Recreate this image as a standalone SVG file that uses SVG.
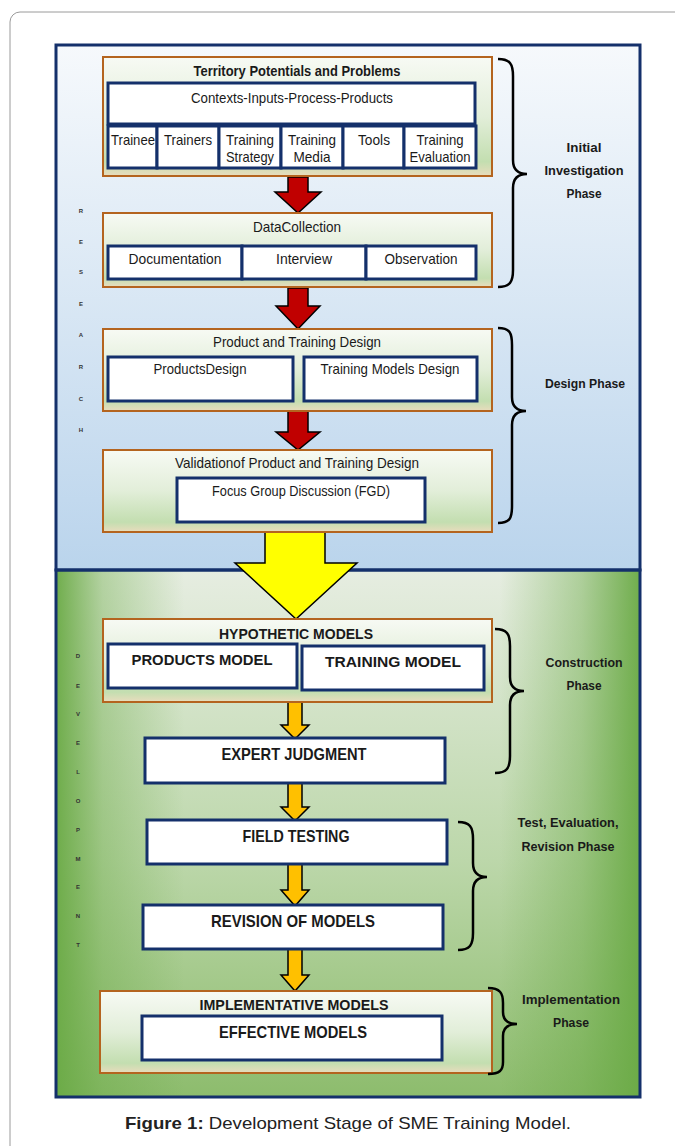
<svg xmlns="http://www.w3.org/2000/svg" width="675" height="1146" viewBox="0 0 675 1146">
<defs>
<linearGradient id="gBlue" x1="0" y1="0" x2="0" y2="1">
<stop offset="0" stop-color="#f6f9fc"/>
<stop offset="1" stop-color="#bad4ec"/>
</linearGradient>
<linearGradient id="gGreenV" x1="0" y1="0" x2="0" y2="1">
<stop offset="0" stop-color="#e6ede1"/>
<stop offset="0.55" stop-color="#bcd7aa"/>
<stop offset="1" stop-color="#8dbc6d"/>
</linearGradient>
<linearGradient id="gGreenH" x1="0" y1="0" x2="1" y2="0">
<stop offset="0" stop-color="#6aaa45" stop-opacity="0.95"/>
<stop offset="0.08" stop-color="#6aaa45" stop-opacity="0.4"/>
<stop offset="0.22" stop-color="#6aaa45" stop-opacity="0"/>
<stop offset="0.76" stop-color="#6aaa45" stop-opacity="0"/>
<stop offset="0.9" stop-color="#6aaa45" stop-opacity="0.45"/>
<stop offset="1" stop-color="#6aaa45" stop-opacity="0.95"/>
</linearGradient>
<linearGradient id="gBox" x1="0" y1="0" x2="0" y2="1">
<stop offset="0" stop-color="#f7faf4"/>
<stop offset="0.5" stop-color="#e2eed9"/>
<stop offset="0.88" stop-color="#c3deb0"/>
<stop offset="1" stop-color="#e9dcbd"/>
</linearGradient>
<style>
.frame{fill:url(#gBox);stroke:#b4641f;stroke-width:2}
.cell{fill:#ffffff;stroke:#14306b;stroke-width:3}
.t{font-family:"Liberation Sans",Arial,sans-serif;font-size:15px;fill:#1a1a1a;text-anchor:middle}
.b{font-weight:bold}
.u{font-size:17px}
.ph{font-family:"Liberation Sans",Arial,sans-serif;font-size:13.5px;font-weight:bold;fill:#1a1a1a;text-anchor:middle}
.v{font-family:"Liberation Sans",Arial,sans-serif;font-size:6px;font-weight:bold;fill:#333;text-anchor:middle}
.red{fill:#c00000;stroke:#000;stroke-width:1.5}
.yel{fill:#ffff00;stroke:#000;stroke-width:1.5}
.org{fill:#ffc000;stroke:#000;stroke-width:1.5}
.brace{fill:none;stroke:#000;stroke-width:2.5}
</style>
</defs>

<rect x="10" y="12" width="690" height="1160" rx="10" fill="#ffffff" stroke="#9a9a9a" stroke-width="1"/>

<g id="panels">
<rect x="56" y="45" width="584" height="525" fill="url(#gBlue)"/>
<rect x="56" y="570" width="584" height="527" fill="url(#gGreenV)"/>
<rect x="56" y="570" width="584" height="527" fill="url(#gGreenH)"/>
<rect x="56" y="45" width="584" height="525" fill="none" stroke="#14306b" stroke-width="3"/>
<rect x="56" y="570" width="584" height="527" fill="none" stroke="#14306b" stroke-width="3"/>
</g>

<g id="side-letters">
<text class="v" x="81" y="213">R</text>
<text class="v" x="81" y="244">E</text>
<text class="v" x="81" y="274">S</text>
<text class="v" x="81" y="306">E</text>
<text class="v" x="81" y="337">A</text>
<text class="v" x="81" y="369">R</text>
<text class="v" x="81" y="401">C</text>
<text class="v" x="81" y="432">H</text>
<text class="v" x="78" y="658">D</text>
<text class="v" x="78" y="688">E</text>
<text class="v" x="78" y="716">V</text>
<text class="v" x="78" y="745">E</text>
<text class="v" x="78" y="774">L</text>
<text class="v" x="78" y="803">O</text>
<text class="v" x="78" y="832">P</text>
<text class="v" x="78" y="861">M</text>
<text class="v" x="78" y="889">E</text>
<text class="v" x="78" y="918">N</text>
<text class="v" x="78" y="947">T</text>
</g>

<g id="connectors">
<polygon class="red" points="288,177 308,177 308,192 321,192 298,213 275,192 288,192"/>
<polygon class="red" points="288,288 308,288 308,306 320,306 298,329 276,306 288,306"/>
<polygon class="red" points="288,411 308,411 308,432 320,432 298,450 276,432 288,432"/>
<polygon class="yel" points="265,532 325,532 325,563 357,563 296,619 235,563 265,563"/>
<polygon class="org" points="288,701 302,701 302,725 309,725 295,739 281,725 288,725"/>
<polygon class="org" points="288,783 302,783 302,807 309,807 295,821 281,807 288,807"/>
<polygon class="org" points="288,864 302,864 302,890 309,890 295,906 281,890 288,890"/>
<polygon class="org" points="288,949 302,949 302,975 309,975 295,991 281,975 288,975"/>
</g>

<g id="node-territory">
<rect class="frame" x="103" y="57" width="389" height="119"/>
<text class="t b" x="297" y="76" font-size="14" textLength="207" lengthAdjust="spacingAndGlyphs">Territory Potentials and Problems</text>
<rect class="cell" x="108" y="83" width="367" height="41"/>
<text class="t" x="292" y="103" textLength="202" lengthAdjust="spacingAndGlyphs">Contexts-Inputs-Process-Products</text>
<rect class="cell" x="108" y="126" width="49" height="42"/>
<rect class="cell" x="157" y="126" width="62" height="42"/>
<rect class="cell" x="219" y="126" width="62" height="42"/>
<rect class="cell" x="281" y="126" width="62" height="42"/>
<rect class="cell" x="343" y="126" width="61" height="42"/>
<rect class="cell" x="404" y="126" width="72" height="42"/>
<text class="t" x="133" y="145" textLength="44" lengthAdjust="spacingAndGlyphs">Trainee</text>
<text class="t" x="188" y="145" textLength="48" lengthAdjust="spacingAndGlyphs">Trainers</text>
<text class="t" x="250" y="145" textLength="48" lengthAdjust="spacingAndGlyphs">Training</text>
<text class="t" x="250" y="162" textLength="48" lengthAdjust="spacingAndGlyphs">Strategy</text>
<text class="t" x="312" y="145" textLength="48" lengthAdjust="spacingAndGlyphs">Training</text>
<text class="t" x="312" y="162" textLength="37" lengthAdjust="spacingAndGlyphs">Media</text>
<text class="t" x="374" y="145" textLength="32" lengthAdjust="spacingAndGlyphs">Tools</text>
<text class="t" x="440" y="145" textLength="47" lengthAdjust="spacingAndGlyphs">Training</text>
<text class="t" x="440" y="162" textLength="61" lengthAdjust="spacingAndGlyphs">Evaluation</text>
</g>

<g id="node-datacollection">
<rect class="frame" x="103" y="213" width="389" height="74"/>
<text class="t" x="297" y="232" textLength="88" lengthAdjust="spacingAndGlyphs">DataCollection</text>
<rect class="cell" x="108" y="246" width="134" height="33"/>
<rect class="cell" x="242" y="246" width="124" height="33"/>
<rect class="cell" x="366" y="246" width="110" height="33"/>
<text class="t" x="175" y="264" textLength="93" lengthAdjust="spacingAndGlyphs">Documentation</text>
<text class="t" x="304" y="264" textLength="56" lengthAdjust="spacingAndGlyphs">Interview</text>
<text class="t" x="421" y="264" textLength="73" lengthAdjust="spacingAndGlyphs">Observation</text>
</g>

<g id="node-design">
<rect class="frame" x="103" y="329" width="389" height="82"/>
<text class="t" x="297" y="347" textLength="168" lengthAdjust="spacingAndGlyphs">Product and Training Design</text>
<rect class="cell" x="108" y="357" width="185" height="44"/>
<rect class="cell" x="304" y="357" width="173" height="44"/>
<text class="t" x="200" y="374" textLength="93" lengthAdjust="spacingAndGlyphs">ProductsDesign</text>
<text class="t" x="390" y="374" textLength="139" lengthAdjust="spacingAndGlyphs">Training Models Design</text>
</g>

<g id="node-validation">
<rect class="frame" x="103" y="450" width="389" height="82"/>
<text class="t" x="297" y="468" textLength="244" lengthAdjust="spacingAndGlyphs">Validationof Product and Training Design</text>
<rect class="cell" x="177" y="478" width="248" height="44"/>
<text class="t" x="301" y="496" textLength="178" lengthAdjust="spacingAndGlyphs">Focus Group Discussion (FGD)</text>
</g>

<g id="node-hypothetic">
<rect class="frame" x="103" y="619" width="389" height="83"/>
<text class="t b" x="296" y="639" textLength="154" lengthAdjust="spacingAndGlyphs">HYPOTHETIC  MODELS</text>
<rect class="cell" x="108" y="644" width="189" height="44"/>
<rect class="cell" x="302" y="646" width="182" height="44"/>
<text class="t b" x="202" y="665" font-size="18" textLength="141" lengthAdjust="spacingAndGlyphs">PRODUCTS MODEL</text>
<text class="t b" x="393" y="667" font-size="18" textLength="136" lengthAdjust="spacingAndGlyphs">TRAINING MODEL</text>
</g>

<g id="node-expert">
<rect class="cell" x="145" y="738" width="300" height="45"/>
<text class="t b u" x="294" y="760" textLength="145" lengthAdjust="spacingAndGlyphs">EXPERT JUDGMENT</text>
</g>

<g id="node-field">
<rect class="cell" x="147" y="820" width="300" height="44"/>
<text class="t b u" x="296" y="842" textLength="107" lengthAdjust="spacingAndGlyphs">FIELD TESTING</text>
</g>

<g id="node-revision">
<rect class="cell" x="143" y="905" width="300" height="44"/>
<text class="t b u" x="293" y="927" textLength="164" lengthAdjust="spacingAndGlyphs">REVISION OF MODELS</text>
</g>

<g id="node-implementative">
<rect class="frame" x="100" y="991" width="392" height="82"/>
<text class="t b" x="294" y="1010" textLength="189" lengthAdjust="spacingAndGlyphs">IMPLEMENTATIVE  MODELS</text>
<rect class="cell" x="142" y="1016" width="300" height="44"/>
<text class="t b u" x="293" y="1038" textLength="148" lengthAdjust="spacingAndGlyphs">EFFECTIVE  MODELS</text>
</g>

<g id="phase-initial">
<path class="brace" d="M498,59 C510,59 513,64 513,76 L513,160 C513,170 518,174 527,174 C518,174 513,178 513,188 L513,270 C513,282 510,287 498,287"/>
<text class="ph" x="584" y="152" textLength="35" lengthAdjust="spacingAndGlyphs">Initial</text>
<text class="ph" x="584" y="175" textLength="79" lengthAdjust="spacingAndGlyphs">Investigation</text>
<text class="ph" x="584" y="198" textLength="35" lengthAdjust="spacingAndGlyphs">Phase</text>
</g>

<g id="phase-design">
<path class="brace" d="M498,328 C510,328 512,333 512,345 L512,397 C512,407 517,411 526,411 C517,411 512,415 512,425 L512,506 C512,518 510,523 498,523"/>
<text class="ph" x="585" y="388" textLength="80" lengthAdjust="spacingAndGlyphs">Design Phase</text>
</g>

<g id="phase-construction">
<path class="brace" d="M495,629 C507,629 510,634 510,646 L510,677 C510,687 515,691 524,691 C515,691 510,695 510,705 L510,756 C510,768 507,773 495,773"/>
<text class="ph" x="584" y="667" textLength="77" lengthAdjust="spacingAndGlyphs">Construction</text>
<text class="ph" x="584" y="690" textLength="35" lengthAdjust="spacingAndGlyphs">Phase</text>
</g>

<g id="phase-test">
<path class="brace" d="M458,822 C470,822 473,827 473,839 L473,863 C473,873 478,877 487,877 C478,877 473,881 473,891 L473,933 C473,945 470,950 458,950"/>
<text class="ph" x="568" y="827" textLength="101" lengthAdjust="spacingAndGlyphs">Test, Evaluation,</text>
<text class="ph" x="568" y="851" textLength="93" lengthAdjust="spacingAndGlyphs">Revision  Phase</text>
</g>

<g id="phase-implementation">
<path class="brace" d="M488,988 C500,988 503,993 503,1003 L503,1012 C503,1020 508,1024 517,1024 C508,1024 503,1028 503,1036 L503,1062 C503,1070 500,1074 488,1074"/>
<text class="ph" x="571" y="1004" textLength="98" lengthAdjust="spacingAndGlyphs">Implementation</text>
<text class="ph" x="571" y="1027" textLength="36" lengthAdjust="spacingAndGlyphs">Phase</text>
</g>

<text x="348" y="1129" font-family="Liberation Sans, Arial, sans-serif" font-size="17" fill="#222" text-anchor="middle" textLength="446" lengthAdjust="spacingAndGlyphs"><tspan font-weight="bold">Figure 1:</tspan> Development Stage of SME Training Model.</text>
</svg>
